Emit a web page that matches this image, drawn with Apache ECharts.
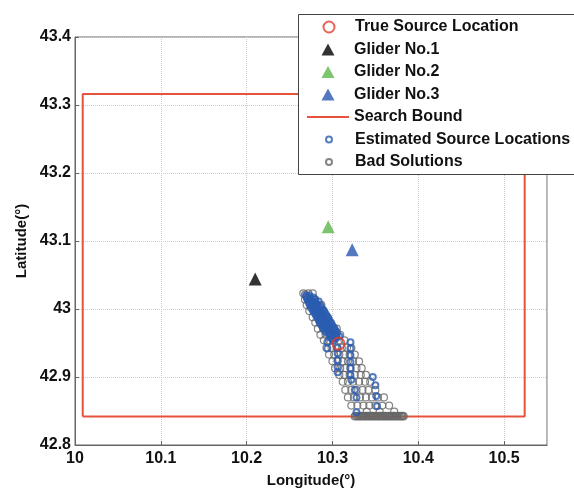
<!DOCTYPE html>
<html>
<head>
<meta charset="utf-8">
<script src="https://cdn.jsdelivr.net/npm/echarts@6/dist/echarts.min.js"></script>
<style>
  html, body { margin: 0; padding: 0; background: #fff; }
  #main { width: 574px; height: 493px; }
</style>
</head>
<body>
<div id="main"></div>
<script>
// source / glider positions (lon, lat)
var trueSource = [[10.307, 42.949]];
var glider1 = [[10.210, 43.044]];
var glider2 = [[10.295, 43.121]];
var glider3 = [[10.323, 43.087]];

// search bound rectangle corners
var boundLon = [10.009, 10.524];
var boundLat = [42.842, 43.316];

// estimated source locations (blue)
var goodPts = [
  [10.269, 43.020], [10.273, 43.020],
  [10.270, 43.017], [10.274, 43.017], [10.278, 43.017],
  [10.271, 43.014], [10.275, 43.014], [10.279, 43.014],
  [10.272, 43.011], [10.276, 43.011], [10.280, 43.011], [10.284, 43.011],
  [10.273, 43.008], [10.277, 43.008], [10.281, 43.008],
  [10.274, 43.005], [10.278, 43.005], [10.282, 43.005], [10.286, 43.005],
  [10.275, 43.002], [10.279, 43.002], [10.283, 43.002], [10.287, 43.002],
  [10.277, 42.999], [10.281, 42.999], [10.285, 42.999], [10.289, 42.999],
  [10.278, 42.996], [10.282, 42.996], [10.286, 42.996], [10.290, 42.996],
  [10.280, 42.993], [10.284, 42.993], [10.288, 42.993], [10.292, 42.993],
  [10.281, 42.990], [10.285, 42.990], [10.289, 42.990], [10.293, 42.990],
  [10.283, 42.987], [10.287, 42.987], [10.291, 42.987], [10.295, 42.987],
  [10.284, 42.984], [10.288, 42.984], [10.292, 42.984], [10.296, 42.984],
  [10.285, 42.981], [10.289, 42.981], [10.293, 42.981], [10.297, 42.981],
  [10.286, 42.978], [10.290, 42.978], [10.295, 42.978], [10.299, 42.978],
  [10.288, 42.975], [10.292, 42.975], [10.296, 42.975], [10.300, 42.975],
  [10.289, 42.972], [10.293, 42.972], [10.298, 42.972], [10.302, 42.972],
  [10.291, 42.969], [10.295, 42.969], [10.299, 42.969], [10.303, 42.969],
  [10.292, 42.966], [10.296, 42.966], [10.301, 42.966], [10.305, 42.966],
  [10.296, 42.963], [10.300, 42.963], [10.305, 42.963],
  [10.298, 42.960], [10.304, 42.960], [10.308, 42.960],
  [10.299, 42.957], [10.304, 42.957],
  [10.294, 42.951], [10.294, 42.942], [10.301, 42.954],
  [10.306, 42.943], [10.306, 42.935], [10.306, 42.925], [10.306, 42.915], [10.306, 42.907],
  [10.321, 42.951], [10.321, 42.942], [10.321, 42.932], [10.321, 42.922],
  [10.321, 42.913], [10.321, 42.903], [10.322, 42.896],
  [10.347, 42.900], [10.350, 42.888], [10.351, 42.872], [10.352, 42.857],
  [10.326, 42.881], [10.328, 42.870], [10.328, 42.848]
];

// bad solutions (grey)
var badPts = [
  [10.268, 43.021], [10.270, 43.018],
  [10.266, 43.023], [10.272, 43.023], [10.277, 43.023],
  [10.268, 43.014], [10.274, 43.014], [10.280, 43.014],
  [10.270, 43.006], [10.276, 43.006], [10.282, 43.006], [10.287, 43.006],
  [10.273, 42.997], [10.279, 42.997], [10.285, 42.997], [10.290, 42.997],
  [10.277, 42.988], [10.283, 42.988], [10.289, 42.988], [10.294, 42.988],
  [10.280, 42.980], [10.286, 42.980], [10.292, 42.980], [10.298, 42.980],
  [10.283, 42.971], [10.289, 42.971], [10.295, 42.971], [10.301, 42.971], [10.305, 42.971],
  [10.286, 42.962], [10.292, 42.962], [10.298, 42.962], [10.304, 42.962], [10.309, 42.962],
  [10.290, 42.954], [10.296, 42.954], [10.302, 42.954], [10.308, 42.954], [10.314, 42.954],
  [10.293, 42.943], [10.299, 42.943], [10.305, 42.943], [10.311, 42.943], [10.317, 42.943], [10.322, 42.943],
  [10.296, 42.933], [10.302, 42.933], [10.308, 42.933], [10.314, 42.933], [10.320, 42.933], [10.326, 42.933],
  [10.300, 42.923], [10.306, 42.923], [10.312, 42.923], [10.318, 42.923], [10.324, 42.923], [10.331, 42.923],
  [10.303, 42.913], [10.309, 42.913], [10.315, 42.913], [10.321, 42.913], [10.328, 42.913], [10.334, 42.913],
  [10.308, 42.903], [10.314, 42.903], [10.320, 42.903], [10.326, 42.903], [10.333, 42.903], [10.339, 42.903],
  [10.312, 42.893], [10.318, 42.893], [10.324, 42.893], [10.331, 42.893], [10.338, 42.893], [10.344, 42.893],
  [10.315, 42.881], [10.322, 42.881], [10.328, 42.881], [10.335, 42.881], [10.342, 42.881], [10.350, 42.881],
  [10.318, 42.870], [10.325, 42.870], [10.332, 42.870], [10.339, 42.870], [10.346, 42.870], [10.353, 42.870], [10.360, 42.870],
  [10.322, 42.858], [10.329, 42.858], [10.336, 42.858], [10.343, 42.858], [10.350, 42.858], [10.358, 42.858], [10.366, 42.858],
  [10.340, 42.849], [10.355, 42.849], [10.372, 42.849],
  // pile-up on the lower bound
  [10.326, 42.842], [10.3285, 42.842], [10.331, 42.842], [10.3335, 42.842], [10.336, 42.842],
  [10.3385, 42.842], [10.341, 42.842], [10.3435, 42.842], [10.346, 42.842], [10.3485, 42.842],
  [10.351, 42.842], [10.3535, 42.842], [10.356, 42.842], [10.3585, 42.842], [10.361, 42.842],
  [10.3635, 42.842], [10.366, 42.842], [10.3685, 42.842], [10.371, 42.842], [10.3735, 42.842],
  [10.376, 42.842], [10.3785, 42.842], [10.381, 42.842], [10.383, 42.842],
  [10.327, 42.843], [10.330, 42.843], [10.332, 42.843], [10.335, 42.843], [10.337, 42.843],
  [10.340, 42.843], [10.342, 42.843], [10.345, 42.843], [10.347, 42.843], [10.350, 42.843],
  [10.352, 42.843], [10.355, 42.843], [10.357, 42.843], [10.360, 42.843], [10.362, 42.843],
  [10.365, 42.843], [10.367, 42.843], [10.370, 42.843], [10.372, 42.843], [10.375, 42.843],
  [10.377, 42.843], [10.380, 42.843], [10.382, 42.843]
];

var boundPath = [
  [boundLon[0], boundLat[0]], [boundLon[1], boundLat[0]],
  [boundLon[1], boundLat[1]], [boundLon[0], boundLat[1]],
  [boundLon[0], boundLat[0]]
];

var legendNames = ['True Source Location', 'Glider No.1', 'Glider No.2', 'Glider No.3',
  'Search Bound', 'Estimated Source Locations', 'Bad Solutions'];
var legendIconW = [11, 13, 13, 13, 42, 6, 6];
var legendIconH = [11, 12, 12, 12, 2, 6, 6];

var font = 'Liberation Sans, Arial, sans-serif';

var legends = legendNames.map(function (name, i) {
  var w = legendIconW[i];
  var left = 328 - w / 2;
  var item = { name: name };
  if (name === 'Search Bound') item.icon = 'rect';
  return {
    data: [item],
    left: left,
    top: 19 + i * 22.5,
    padding: 0,
    itemWidth: w,
    itemHeight: legendIconH[i],
    selectedMode: false,
    textStyle: {
      fontFamily: font, fontWeight: 'bold', fontSize: 16, color: '#111', lineHeight: 16,
      padding: [0, 0, 0, 354 - (left + w + 5)]
    }
  };
});

var chart = echarts.init(document.getElementById('main'));
chart.setOption({
  animation: false,
  backgroundColor: '#fff',
  grid: { left: 75, right: 27, top: 37, bottom: 42, show: true, borderColor: '#666', borderWidth: 1 },
  legend: legends,
  graphic: [{
    type: 'rect', z: 3, silent: true,
    shape: { x: 298.5, y: 14.5, width: 300, height: 160 },
    style: { fill: '#fff', stroke: '#444', lineWidth: 1 }
  }],
  xAxis: {
    type: 'value', min: 10, max: 10.55, interval: 0.1,
    name: 'Longitude(°)', nameLocation: 'middle', nameGap: 28,
    nameTextStyle: { fontFamily: font, fontWeight: 'bold', fontSize: 15, color: '#111' },
    axisLine: { lineStyle: { color: '#666' } },
    axisTick: { inside: true, length: 4, lineStyle: { color: '#666' } },
    axisLabel: { fontFamily: font, fontWeight: 'bold', fontSize: 16, color: '#111', margin: 6, showMaxLabel: false },
    splitLine: { lineStyle: { color: '#ccc', type: 'dotted' } }
  },
  yAxis: {
    type: 'value', min: 42.8, max: 43.4, interval: 0.1,
    name: 'Latitude(°)', nameLocation: 'middle', nameGap: 40,
    nameTextStyle: { fontFamily: font, fontWeight: 'bold', fontSize: 15, color: '#111' },
    axisLine: { lineStyle: { color: '#666' } },
    axisTick: { inside: true, length: 4, lineStyle: { color: '#666' } },
    axisLabel: { fontFamily: font, fontWeight: 'bold', fontSize: 16, color: '#111', margin: 4 },
    splitLine: { lineStyle: { color: '#ccc', type: 'dotted' } }
  },
  series: [
    {
      name: 'Search Bound', type: 'line', data: boundPath, symbol: 'none',
      lineStyle: { color: '#e5533c', width: 2 }, itemStyle: { color: '#e5533c' }, z: 1
    },
    {
      name: 'Bad Solutions', type: 'scatter', data: badPts, symbol: 'circle', symbolSize: 7,
      itemStyle: { color: 'rgba(255,255,255,0)', borderColor: '#666', borderWidth: 1.2 }
    },
    {
      name: 'Estimated Source Locations', type: 'scatter', data: goodPts, symbol: 'circle', symbolSize: 6,
      itemStyle: { color: 'rgba(255,255,255,0)', borderColor: '#2b5cb0', borderWidth: 2 }
    },
    {
      name: 'True Source Location', type: 'scatter', data: trueSource, symbol: 'circle', symbolSize: 12,
      itemStyle: { color: 'rgba(255,255,255,0)', borderColor: '#e5392b', borderWidth: 2 }
    },
    {
      name: 'Glider No.1', type: 'scatter', data: glider1, symbol: 'triangle', symbolSize: 13,
      itemStyle: { color: '#000' }
    },
    {
      name: 'Glider No.2', type: 'scatter', data: glider2, symbol: 'triangle', symbolSize: 13,
      itemStyle: { color: '#5bb54a' }
    },
    {
      name: 'Glider No.3', type: 'scatter', data: glider3, symbol: 'triangle', symbolSize: 13,
      itemStyle: { color: '#2757b0' }
    }
  ]
});
</script>
</body>
</html>
